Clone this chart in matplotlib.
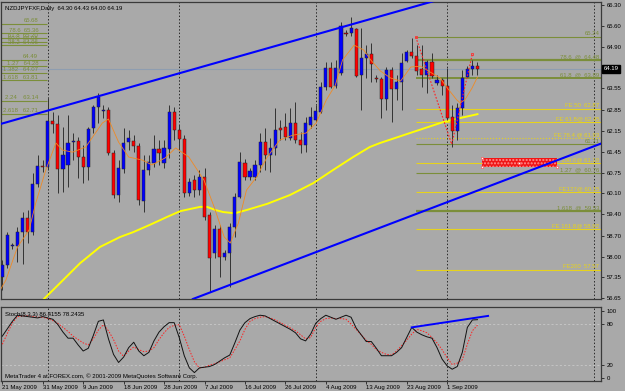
import matplotlib
matplotlib.use("Agg")
import matplotlib.pyplot as plt
from matplotlib.patches import Rectangle
import matplotlib.transforms as mtrans

plt.rcParams['font.family'] = ['Liberation Sans', 'DejaVu Sans']

# daily OHLC, NZDJPY, bar 0 = 21 May 2009 (sunday bars included)
opens = [57.34, 57.74, 58.35, 58.36, 58.82, 59.28, 58.82, 60.40, 61.00, 60.96,
         62.47, 62.38, 60.90, 61.03, 61.78, 61.82, 61.29, 60.96, 62.24, 62.94,
         62.82, 62.84, 61.42, 60.04, 60.90, 61.78, 61.82, 61.65, 59.84, 60.86,
         61.09, 61.55, 61.09, 61.55, 62.77, 62.18, 61.88, 60.11, 60.53, 60.20,
         60.63, 59.38, 58.13, 58.92, 58.00, 58.13, 58.99, 59.97, 61.09, 60.63,
         60.63, 61.03, 61.78, 61.36, 61.59, 62.24, 62.28, 61.91, 62.41, 61.85,
         61.69, 62.34, 62.51, 62.77, 63.59, 64.22, 63.63, 64.05, 65.37, 65.37,
         65.50, 63.99, 64.55, 64.68, 63.86, 63.86, 63.20, 64.15, 63.53, 63.76,
         64.45, 64.74, 64.61, 64.19, 63.99, 64.42, 63.72, 63.82, 63.63, 62.61,
         62.15, 62.90, 63.92, 64.19, 64.30]
highs = [57.90, 58.82, 58.46, 58.99, 59.48, 59.55, 60.76, 61.36, 61.19, 63.23,
         62.77, 62.67, 62.28, 62.67, 62.08, 61.95, 61.69, 62.28, 63.00, 63.40,
         63.00, 62.94, 61.52, 61.19, 62.24, 62.18, 62.01, 61.75, 61.36, 61.36,
         62.01, 61.85, 61.85, 63.00, 62.94, 62.34, 62.01, 60.60, 60.70, 60.86,
         60.93, 59.48, 59.06, 59.06, 58.23, 59.12, 60.11, 61.45, 61.23, 60.93,
         61.19, 62.08, 62.24, 61.91, 62.90, 62.51, 62.74, 62.90, 63.10, 62.11,
         62.61, 62.94, 63.00, 63.76, 64.42, 64.42, 64.48, 65.73, 65.47, 65.90,
         65.53, 65.53, 64.97, 65.04, 63.99, 63.92, 64.25, 64.25, 63.99, 64.71,
         64.81, 65.20, 64.97, 64.97, 64.48, 64.71, 63.99, 63.89, 64.22, 63.00,
         63.07, 64.15, 64.28, 64.48, 64.43]
lows = [56.91, 57.64, 58.26, 57.84, 57.77, 58.46, 58.72, 60.30, 60.80, 60.86,
        62.08, 60.11, 60.14, 60.30, 61.19, 60.60, 60.43, 60.53, 62.08, 62.41,
        62.57, 61.36, 59.94, 59.81, 60.76, 61.52, 61.45, 59.71, 59.48, 60.70,
        60.96, 61.03, 60.93, 61.26, 61.85, 61.52, 59.97, 60.00, 59.97, 60.04,
        59.22, 56.85, 57.97, 57.34, 57.90, 57.01, 58.66, 59.94, 60.53, 60.53,
        60.53, 60.80, 60.86, 60.80, 61.36, 61.85, 61.85, 61.85, 61.75, 61.42,
        61.45, 62.24, 62.44, 62.74, 63.49, 63.56, 63.56, 63.99, 65.27, 65.27,
        63.92, 62.84, 63.89, 63.76, 63.76, 62.57, 62.84, 62.44, 63.17, 62.84,
        64.42, 64.55, 63.99, 63.59, 63.40, 63.89, 63.66, 63.33, 62.51, 61.62,
        61.85, 62.67, 63.92, 63.99, 64.00]
closes = [57.74, 58.72, 58.38, 58.82, 59.28, 58.82, 60.40, 61.00, 60.95, 62.47,
          62.38, 60.90, 61.36, 61.75, 61.82, 61.29, 60.96, 62.21, 62.94, 63.26,
          62.84, 61.42, 60.04, 60.93, 61.75, 61.91, 61.65, 59.88, 60.86, 61.13,
          61.55, 61.42, 61.59, 62.77, 62.18, 61.88, 60.11, 60.47, 60.20, 60.63,
          59.32, 57.97, 58.92, 58.00, 58.13, 58.99, 59.97, 61.13, 60.63, 60.83,
          61.03, 61.78, 61.36, 61.59, 62.18, 62.18, 61.95, 62.41, 61.85, 61.69,
          62.41, 62.61, 62.80, 63.59, 64.22, 63.59, 64.22, 65.60, 65.35, 65.53,
          63.95, 64.55, 64.68, 64.35, 63.85, 63.20, 64.15, 63.53, 63.76, 64.38,
          64.74, 64.61, 64.12, 63.99, 64.42, 63.95, 63.82, 63.63, 62.57, 62.15,
          62.90, 63.89, 64.19, 64.28, 64.19]

# slow MA (yellow) and fast MA (orange), read as (bar, price)
ma_slow_bars = [7.5, 11.4, 15.4, 19.3, 23.3, 25.9, 29.2, 32.6, 35.2, 39.1, 40.5, 42.1,
                43.7, 46.0, 48.4, 52.4, 56.9, 61.5, 65.4, 69.4, 72.7, 74.7, 81.2,
                87.2, 90.5, 94.0]
ma_slow = [56.50, 57.14, 57.80, 58.33, 58.66, 58.82, 59.06, 59.32, 59.51, 59.65, 59.65,
           59.55, 59.48, 59.44, 59.55, 59.75, 60.04, 60.43, 60.86, 61.29, 61.62, 61.75,
           62.11, 62.44, 62.57, 62.70]
ma_fast_bars = [-0.3, 0.7, 3, 5.3, 6.6, 8.6, 10.6, 11.9, 13.9, 16.5, 19.8, 21, 23, 25,
                27.7, 29.6, 32.2, 34.3, 36.9, 39.9, 41.9, 43.9, 45.1, 46.7, 48.3, 50.3,
                52.3, 54.9, 57.5, 60.1, 62.1, 64.1, 65.9, 67.3, 69.6, 71.5, 72.9, 74.8,
                76.8, 78.8, 80.8, 82.8, 84.6, 86.6, 87.9, 89.9, 90.6, 91.5, 92.9, 94.0]
ma_fast = [56.95, 57.24, 58.33, 58.89, 59.77, 60.86, 61.75, 61.52, 61.45, 61.62, 62.41,
           62.54, 61.78, 61.29, 61.19, 61.03, 61.26, 61.59, 61.29, 60.53, 59.65, 58.66,
           58.46, 59.12, 60.20, 60.63, 61.26, 61.85, 62.01, 62.08, 62.41, 63.17, 63.66,
           64.48, 64.97, 64.81, 64.48, 64.12, 63.89, 63.79, 64.25, 64.28, 64.09, 63.89,
           63.59, 63.17, 63.07, 63.17, 63.55, 63.92]

# trend channel anchors (bar, price)
upper_channel = [(-0.3, 62.38), (86.0, 66.45)]
lower_channel = [(37.7, 56.62), (118.4, 61.73)]

zigzag_bars = [81.8, 88.9, 93.0]
zigzag_prices = [65.24, 61.71, 64.68]

# fibonacci levels on the right
fib_ret = [(65.24, '65.24', 0.8), (64.48, '78.6  @  64.48', 1.6), (63.89, '61.8  @  63.89', 1.4),
           (61.71, '61.71', 0.8), (60.76, '1.27  @  60.76', 0.8), (59.53, '1.618  @  59.53', 1.6)]
fib_exp = [(62.87, 'FE 50  62.87', '-'), (62.45, 'FE 61.8@ 62.45', '-'),
           (61.93, 'FE 76.4 @ 61.93', ':'), (61.10, 'FE 100.0@ 61.10', '-'),
           (60.15, 'FE127@ 60.15', '-'), (58.92, 'FE 161.8@ 58.92', '-'),
           (57.57, 'FE200  57.57', '-')]
fib_start = 81.9
# older fibo on the left
fib_left = [(65.68, '65.68'), (65.36, '78.6  65.36'), (65.20, '61.8  65.20'),
            (65.08, '50.0  65.08'), (64.96, '38.2  64.96'), (64.49, '64.49'),
            (64.28, '1.27   64.28'), (64.07, '1.382   64.07'), (63.81, '1.618   63.81'),
            (63.14, '2.24    63.14'), (62.71, '2.618   62.71')]

zone_bars = (94.9, 109.7)
zone_prices = (60.96, 61.26)

price_ticks = [66.30, 65.60, 64.90, 63.55, 62.85, 62.15, 61.45, 60.75, 60.10,
               59.40, 58.70, 58.00, 57.35, 56.65]
last_price = 64.19

# stochastic (8,3,3): %K and %D per bar
stoch_k = [62, 73, 84, 93, 92, 91, 90, 89, 91, 89, 87, 79, 68, 59, 59, 49, 40, 44, 63, 84,
           86, 58, 35, 23, 31, 45, 53, 40, 33, 38, 55, 68, 76, 82, 82, 60, 33, 15, 8, 15,
           16, 17, 20, 25, 30, 34, 52, 71, 82, 88, 91, 93, 92, 88, 84, 80, 76, 72, 67, 58,
           55, 65, 81, 88, 93, 90, 87, 90, 93, 90, 74, 64, 54, 54, 44, 33, 33, 33, 38, 45,
           60, 75, 68, 64, 61, 59, 45, 28, 18, 13, 17, 38, 75, 86, 86.4155]
stoch_d = [50, 66, 82, 91, 92, 92, 91, 90, 90, 88, 85, 81, 75, 69, 62, 57, 52, 49, 58, 71,
           79, 70, 57, 40, 32, 40, 46, 42, 39, 40, 45, 57, 67, 75, 78, 79, 62, 42, 24, 15,
           16, 19, 21, 24, 27, 30, 42, 55, 72, 84, 88, 90, 91, 89, 86, 82, 78, 74, 70, 64,
           58, 60, 75, 84, 88, 89, 88, 88, 87, 80, 72, 64, 56, 50, 42, 38, 35, 34, 40, 48,
           56, 65, 72, 70, 67, 60, 52, 42, 30, 20, 22, 27, 50, 70, 78.2435]
stoch_trend = [(81.0, 75), (96.1, 92)]

date_labels = ['21 May 2009', '31 May 2009', '9 Jun 2009', '18 Jun 2009', '28 Jun 2009',
               '7 Jul 2009', '16 Jul 2009', '26 Jul 2009', '4 Aug 2009', '13 Aug 2009',
               '23 Aug 2009', '1 Sep 2009']
label_bars = list(range(0, 89, 8))
grid_bars = [9, 35, 62, 88, 117]

bg = '#a9a9a9'
olive = '#7b8e3a'
gold = '#e6d21c'
fs = 4.3
x_left, x_right = -0.26, 118.44

fig = plt.figure(figsize=(6.25, 3.91), dpi=100, facecolor=bg)
ax = fig.add_axes([1/625, 1 - 299/391, 600/625, 297/391], facecolor=bg)
sub = fig.add_axes([1/625, 1 - 381/391, 600/625, 74/391], facecolor=bg)

for a in (ax, sub):
    a.set_xlim(x_left, x_right)
    for s in a.spines.values():
        s.set_color('#3a3a3a')
        s.set_linewidth(0.9)
    for g in grid_bars:
        a.axvline(g, color='#2a2a2a', lw=0.7, ls=(0, (1.5, 2)), zorder=1)
    a.yaxis.tick_right()
    a.tick_params(axis='y', length=2.5, width=0.6, color='#202020', labelsize=fs, pad=1.5)

ax.set_ylim(56.62, 66.39)
ax.set_xticks([])
ax.set_yticks(price_ticks)
ax.set_yticklabels(['%.2f' % p for p in price_ticks])

# bid line
ax.axhline(last_price, color='#8e9db0', lw=0.8, zorder=2)

# left fibo
for p, lab in fib_left:
    ax.hlines(p, x_left, 8.9, color=olive, lw=0.8, zorder=2)
    ax.annotate(lab, (7.1, p), xytext=(0, 0.3), textcoords='offset points',
                ha='right', va='bottom', fontsize=fs, color=olive)

# right fibo
for p, lab, w in fib_ret:
    ax.hlines(p, fib_start, x_right, color=olive, lw=w, zorder=2)
    ax.annotate(lab, (118.1, p), xytext=(0, 0.5), textcoords='offset points',
                ha='right', va='bottom', fontsize=fs, color=olive)
for p, lab, ls in fib_exp:
    ax.hlines(p, fib_start, x_right, color=gold, lw=0.8, ls=ls, zorder=2)
    ax.annotate(lab, (118.1, p), xytext=(0, 0.5), textcoords='offset points',
                ha='right', va='bottom', fontsize=fs, color=gold)

# moving averages
ax.plot(ma_slow_bars, ma_slow, color='#ffff00', lw=1.4, zorder=3)
ax.plot(ma_fast_bars, ma_fast, color='#f08a24', lw=0.6, zorder=5)

# channel
for line in (upper_channel, lower_channel):
    ax.plot([line[0][0], line[1][0]], [line[0][1], line[1][1]], color='#0000ff', lw=1.5,
            zorder=6, clip_on=True)

# candles
for i in range(len(opens)):
    o, h, l, c = opens[i], highs[i], lows[i], closes[i]
    col = '#0000ff' if c >= o else '#ff0000'
    ax.vlines(i, l, h, color='#333333', lw=0.7, zorder=4)
    bottom = min(o, c)
    height = max(abs(c - o), 0.03)
    ax.bar(i, height, bottom=bottom, width=0.62, color=col, edgecolor='#222222',
           linewidth=0.35, zorder=4.5)

# zigzag
ax.plot(zigzag_bars, zigzag_prices, color='#ff2020', lw=0.8, ls=(0, (1.5, 1.5)), zorder=6)
ax.plot([zigzag_bars[0], zigzag_bars[2]], [zigzag_prices[0], zigzag_prices[2]], ls='none',
        marker='s', ms=2, mfc='none', mec='#ff3030', mew=0.6, zorder=7)

# target zone
ax.add_patch(Rectangle((zone_bars[0], zone_prices[0]), zone_bars[1] - zone_bars[0],
                       zone_prices[1] - zone_prices[0], facecolor='#f01414',
                       edgecolor='#ff9090', hatch='.....', lw=0, zorder=5))
zone_mid = ((zone_bars[0] + zone_bars[1]) / 2, (zone_prices[0] + zone_prices[1]) / 2)
ax.plot([zone_bars[0], zone_bars[0], zone_mid[0], zone_bars[1]],
        [zone_prices[1], zone_prices[0], zone_mid[1], zone_prices[0]], ls='none',
        marker='s', ms=1.8, mfc='white', mec='#ff4040', mew=0.4, zorder=7)

# header
ax.text(0.006, 0.985, 'NZDJPYFXF,Daily  64.30 64.43 64.00 64.19', transform=ax.transAxes,
        fontsize=fs, color='black', ha='left', va='top')

# last price box
trans = mtrans.blended_transform_factory(ax.transAxes, ax.transData)
ax.text(1.004, last_price, '64.19', transform=trans, fontsize=fs, color='white',
        ha='left', va='center', bbox=dict(boxstyle='square,pad=0.25', fc='black', ec='black'),
        zorder=10, clip_on=False)

# stochastic window
sub.set_ylim(-4.44, 105.19)
for lvl in (80, 20):
    sub.axhline(lvl, color='#cfcfcf', lw=0.5, ls=(0, (3, 3)), zorder=1)
sub.plot(range(len(stoch_d)), stoch_d, color='#ff2020', lw=0.7, ls=(0, (1.5, 1.5)), zorder=3)
sub.plot(range(len(stoch_k)), stoch_k, color='#111111', lw=0.7, zorder=4)
sub.plot([stoch_trend[0][0], stoch_trend[1][0]], [stoch_trend[0][1], stoch_trend[1][1]],
         color='#0000ff', lw=1.4, zorder=5)
sub.set_yticks([100, 80, 20, 0])
sub.set_yticklabels(['100', '80', '20', '0'])
sub.set_xticks(label_bars)
sub.set_xticklabels(date_labels, ha='left')
sub.tick_params(axis='x', length=2, width=0.6, color='#202020', labelsize=fs, pad=1)
sub.text(0.006, 0.93, 'Stoch(8,3,3) 86.4155 78.2435', transform=sub.transAxes, fontsize=fs,
         color='black', ha='left', va='top')
sub.text(0.006, 0.03, 'MetaTrader 4 at FOREX.com, \u00a9 2001-2009 MetaQuotes Software Corp.',
         transform=sub.transAxes, fontsize=fs, color='black', ha='left', va='bottom')

fig.savefig('out.png', dpi=100, facecolor=bg)
